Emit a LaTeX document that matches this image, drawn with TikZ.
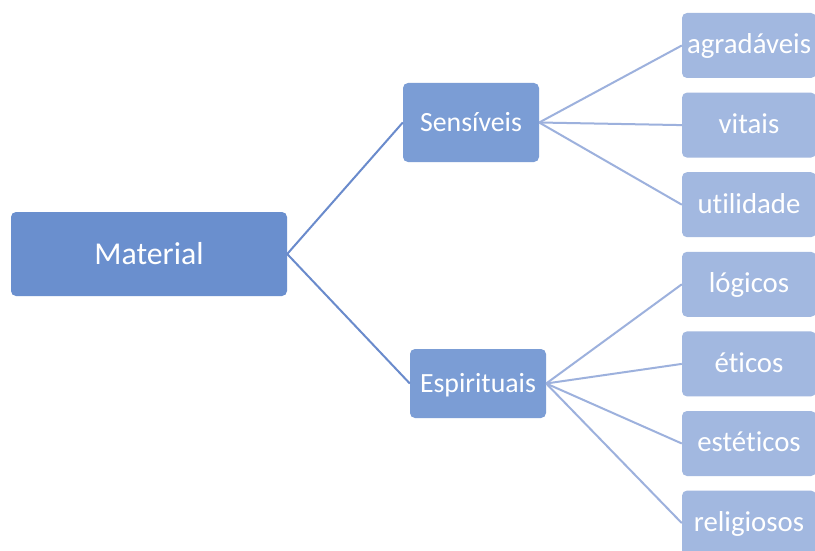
\documentclass[tikz,border=0pt]{standalone}
\usepackage{fontspec}
\setmainfont[Ligatures={NoCommon,NoContextual}]{Carlito}
\definecolor{cMat}{HTML}{6A8FCE}
\definecolor{cMid}{HTML}{7B9DD5}
\definecolor{cLeaf}{HTML}{A2B8E0}
\definecolor{lMat}{HTML}{6A8BCC}
\definecolor{lLeaf}{HTML}{9DB1DD}
\tikzset{
  box/.style={rectangle, rounded corners=5pt, inner sep=0pt, text=white, align=center},
  matbox/.style={box, fill=cMat, minimum width=276pt, minimum height=84pt,
    text height=30pt, text depth=10pt, font=\fontsize{31.8}{36}\selectfont},
  midbox/.style={box, fill=cMid, minimum width=136pt,
    text height=27pt, text depth=8.6pt, font=\fontsize{27.8}{32}\selectfont},
  leafbox/.style={box, fill=cLeaf, minimum width=134pt, minimum height=65pt,
    text height=26pt, text depth=9.4pt, font=\fontsize{28.8}{33}\selectfont},
  matline/.style={draw=lMat, line width=2pt},
  leafline/.style={draw=lLeaf, line width=2pt}
}
\begin{document}
\begin{tikzpicture}[x=1pt,y=-1pt]
\clip (0,0) rectangle (815,551);
\fill[white] (0,0) rectangle (815,551);
\node[matbox] (mat) at (149,254) {Material};
\node[midbox, minimum height=79pt] (sen) at (471,122.5) {Sensíveis};
\node[midbox, minimum height=69pt] (esp) at (478,383.5) {Espirituais};
\node[leafbox] (agr) at (749,45.5) {agradáveis};
\node[leafbox] (vit) at (749,125.1) {vitais};
\node[leafbox] (uti) at (749,204.7) {utilidade};
\node[leafbox] (log) at (749,284.3) {lógicos};
\node[leafbox] (eti) at (749,363.9) {éticos};
\node[leafbox] (est) at (749,443.5) {estéticos};
\node[leafbox] (rel) at (749,523.1) {religiosos};
\draw[matline] (sen.west) -- (mat.east) -- (esp.west);
\foreach \t in {agr,vit,uti} \draw[leafline] (sen.east) -- (\t.west);
\foreach \t in {log,eti,est,rel} \draw[leafline] (esp.east) -- (\t.west);
\end{tikzpicture}
\end{document}
